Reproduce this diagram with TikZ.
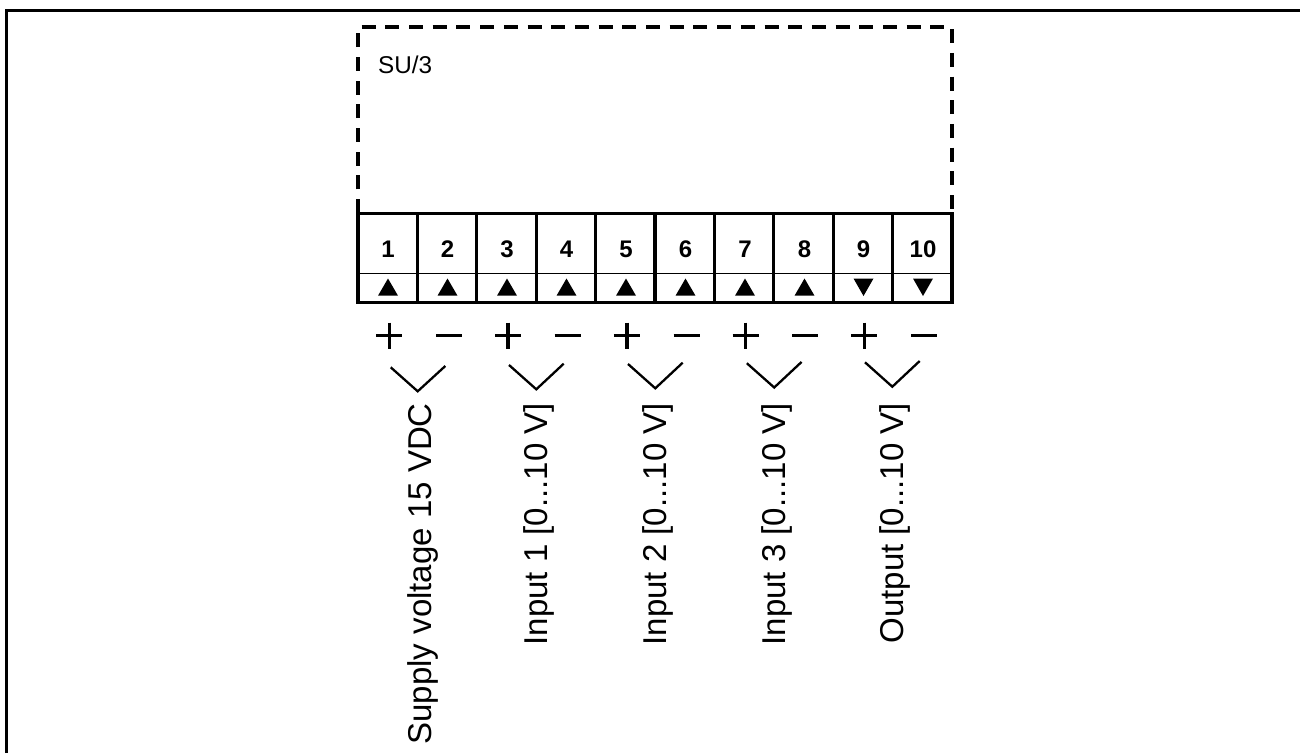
\documentclass[tikz,border=0pt]{standalone}
\usepackage{fontspec}
\setmainfont{Liberation Sans}
\begin{document}
\begin{tikzpicture}[x=1pt,y=-1pt,
  heavy/.style={line width=3.2pt},
  thin rule/.style={line width=1.2pt},
  vee/.style={line width=2.3pt,miter limit=10},
  termnum/.style={font=\fontsize{24}{24}\selectfont\bfseries,inner sep=0pt,anchor=base},
  sign/.style={line width=3.4pt},
  vlabel/.style={font=\fontsize{33}{33}\selectfont,rotate=90,anchor=base east,inner sep=0pt},
  tri/.style={fill=black,draw=none}]
\useasboundingbox (0,0) rectangle (1300,753);
\fill[white] (0,0) rectangle (1300,753);
\draw[line width=3pt] (6,753) -- (6,10) -- (1300,10);
\draw[heavy,dash pattern=on 14pt off 9.7pt,line join=round] (358,213) -- (358,27) -- (952,27) -- (952,213);
\node[font=\fontsize{24.3}{24.3}\selectfont,anchor=base west,inner sep=0pt] (su) at (378,73.3) {SU/3};
\draw[heavy] (358,213.5) rectangle (952,302.5);
\draw[thin rule] (358,273.3) -- (952,273.3);
\foreach \x in {417.4,476.8,536.2,595.6,655,714.4,773.8,833.2,892.6}
  \draw[heavy] (\x,213.5) -- (\x,302.5);
\foreach \n/\x in {1/388,2/447.5,3/507,4/566.5,5/626,6/685.5,7/745,8/804.5,9/863.5,10/923}
  \node[termnum] (n\n) at (\x,257.5) {\n};
\foreach \x in {388,447.5,507,566.5,626,685.5,745,804.5}
  \fill[tri] (\x-10,295.7) -- (\x+10,295.7) -- (\x,278.5) -- cycle;
\foreach \x in {863.5,923}
  \fill[tri] (\x-10,278.5) -- (\x+10,278.5) -- (\x,296) -- cycle;
\foreach \x in {389.3,508,626.8,745.6,864.4}{
  \draw[sign] (\x-13,335.7) -- (\x+13,335.7);
  \draw[sign] (\x,322.7) -- (\x,348.7);
  \draw[sign] (\x+46.7,335.7) -- (\x+72.7,335.7);
}
\draw[vee] (390.7,367.3) -- (417.7,391.3) -- (445.3,366);
\draw[vee] (509,365) -- (536.3,389.3) -- (563.7,363.7);
\draw[vee] (628,364) -- (655.3,388.3) -- (682.7,362.7);
\draw[vee] (746.8,363.2) -- (774.2,387.5) -- (801.6,361.9);
\draw[vee] (865,362.3) -- (892.3,386.7) -- (919.7,361);
\node[vlabel] (l1) at (431,403) {Supply voltage 15 VDC};
\node[vlabel] (l2) at (547,403) {Input 1 [0...10 V]};
\node[vlabel] (l3) at (666,403) {Input 2 [0...10 V]};
\node[vlabel] (l4) at (785,403) {Input 3 [0...10 V]};
\node[vlabel] (l5) at (903,403) {Output [0...10 V]};
\end{tikzpicture}
\end{document}
